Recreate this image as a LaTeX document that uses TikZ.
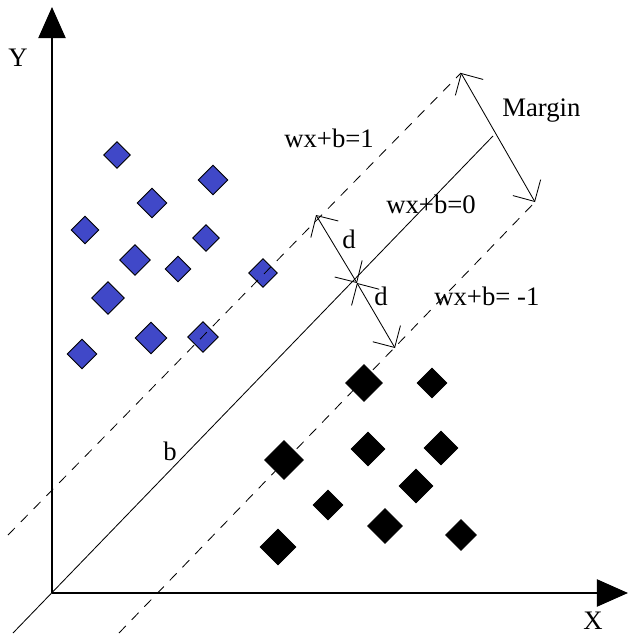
\documentclass[tikz,border=0pt]{standalone}
\usepackage{fontspec}
\setmainfont{Liberation Serif}
\usepackage{tikz}
\usetikzlibrary{shapes.geometric,arrows.meta}
\definecolor{posblue}{HTML}{4048C8}

\begin{document}
\begin{tikzpicture}[
  x=0.025cm, y=-0.025cm,
  axis/.style   = {line width=1.4pt, -{Triangle[length=0.78cm,width=0.68cm]}},
  plane/.style  = {line width=0.6pt},
  bound/.style  = {line width=0.6pt, dash pattern=on 7pt off 6pt},
  arr/.style    = {{Straight Barb[length=4mm,width=8mm,line width=0.6pt]}-{Straight Barb[length=4mm,width=8mm,line width=0.6pt]},
                   line width=0.6pt},
  possample/.style = {diamond, draw=black, fill=posblue, inner sep=0pt, line width=0.6pt},
  negsample/.style = {diamond, draw=black, fill=black, inner sep=0pt},
  lbl/.style    = {inner sep=0pt, anchor=base west, font=\fontsize{19}{22}\selectfont},
]
  \useasboundingbox (0,0) rectangle (628,640);

  % samples of the two classes
  \foreach \x/\y/\s [count=\i] in {117/155/27, 213/180/30, 152/203/30, 85/230/28,
      206/238/27, 135/260/31, 178/269/26, 263/273/29, 108/298/33, 82/354/30,
      151/338/32, 203/337/31}
    \node[possample, minimum size=\s*0.25mm] (pos\i) at (\x,\y) {};
  \foreach \x/\y/\s [count=\i] in {364/383/37, 432/383/30, 368/449/34, 441/448/34,
      416/486/34, 328/505/30, 385/526/35, 461/535/31, 284/460/39, 278/547/36}
    \node[negsample, minimum size=\s*0.25mm] (neg\i) at (\x,\y) {};

  \coordinate (O)    at (52,593);
  \coordinate (ytop) at (52,7);
  \coordinate (xend) at (628,593);
  \coordinate (p0a)  at (13,633);
  \coordinate (p0b)  at (493,136);
  \coordinate (p1a)  at (8,535);
  \coordinate (p1b)  at (461,73);
  \coordinate (p2a)  at (119,633);
  \coordinate (p2b)  at (535,202);
  \coordinate (mid)  at (357,283);
  \coordinate (dup)  at (316,215);
  \coordinate (ddn)  at (395,348);

  \draw[axis] (O) -- (ytop);
  \draw[axis] (O) -- (xend);
  \draw[plane] (p0a) -- (p0b);
  \draw[bound] (p1a) -- (p1b);
  \draw[bound] (p2a) -- (p2b);

  \draw[arr] (p1b) -- (p2b);
  \draw[arr] (mid) -- (dup);
  \draw[arr] (mid) -- (ddn);

  \node[font=\fontsize{19}{22}\selectfont] (ylbl) at (18,58)  {Y};
  \node[font=\fontsize{19}{22}\selectfont] (xlbl) at (593,621) {X};
  \node[lbl] (blbl)   at (163,460) {b};
  \node[lbl] (plus)   at (284,147) {wx+b=1};
  \node[lbl] (zero)   at (386,213) {wx+b=0};
  \node[lbl] (minus)  at (434,305) {wx+b= -1};
  \node[lbl] (mlbl)   at (502,116) {Margin};
  \node[lbl] (dlbl1)  at (342,248) {d};
  \node[lbl] (dlbl2)  at (374,305) {d};
\end{tikzpicture}
\end{document}
